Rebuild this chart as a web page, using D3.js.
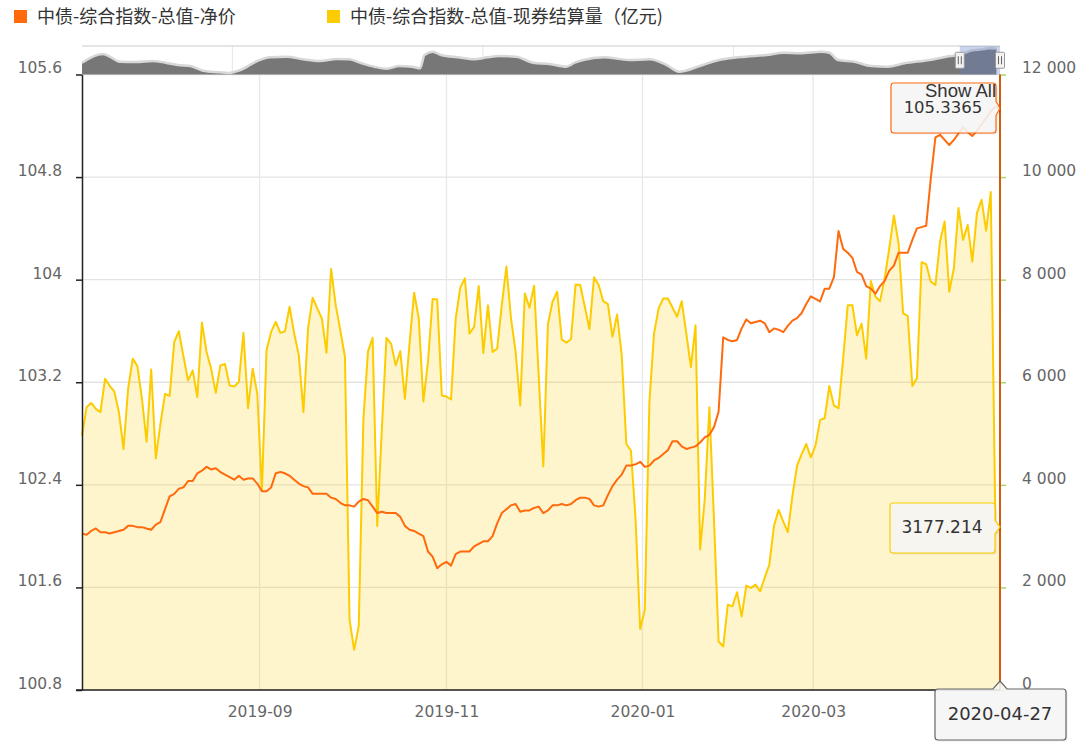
<!DOCTYPE html>
<html><head><meta charset="utf-8">
<script src="https://cdn.jsdelivr.net/npm/d3@7"></script>
<style>
body{margin:0;background:#fff;}
svg{display:block;}
</style></head>
<body>
<svg id="chart" width="1080" height="750"></svg>
<script>
// ---------------- data ----------------
const seriesNames = ["中债-综合指数-总值-净价", "中债-综合指数-总值-现券结算量（亿元)"];
const startDate = "2019-07-09", endDate = "2020-04-27";
const holidays = ["2019-09-13","2019-10-01","2019-10-02","2019-10-03","2019-10-04","2019-10-07",
  "2020-01-01","2020-01-24","2020-01-27","2020-01-28","2020-01-29","2020-01-30","2020-01-31","2020-04-06"];
const extraWorkdays = ["2019-09-29","2019-10-12","2020-01-19","2020-04-26"];

const netPrice = [
 102.02,102.01,102.04,102.06,102.03,102.03,102.02,102.03,102.04,102.05,
 102.08,102.08,102.07,102.07,102.06,102.05,102.09,102.11,102.21,102.31,
 102.33,102.37,102.38,102.43,102.43,102.49,102.51,102.54,102.52,102.53,
 102.50,102.48,102.46,102.44,102.47,102.44,102.45,102.45,102.41,102.35,
 102.35,102.38,102.49,102.50,102.49,102.47,102.44,102.41,102.39,102.38,
 102.33,102.33,102.33,102.33,102.30,102.29,102.26,102.24,102.24,102.23,
 102.27,102.29,102.28,102.23,102.18,102.19,102.18,102.18,102.18,102.15,
 102.08,102.05,102.04,102.02,102.00,101.88,101.84,101.75,101.78,101.80,
 101.77,101.86,101.88,101.88,101.88,101.92,101.94,101.96,101.96,102.00,
 102.10,102.18,102.21,102.24,102.25,102.19,102.20,102.20,102.22,102.23,
 102.18,102.20,102.24,102.24,102.25,102.24,102.25,102.28,102.30,102.30,
 102.29,102.24,102.23,102.24,102.32,102.39,102.44,102.48,102.55,102.55,
 102.56,102.58,102.54,102.55,102.59,102.61,102.64,102.67,102.74,102.74,
 102.70,102.68,102.69,102.70,102.73,102.77,102.79,102.85,102.97,103.55,
 103.53,103.52,103.53,103.62,103.69,103.66,103.67,103.68,103.66,103.59,
 103.62,103.61,103.59,103.64,103.68,103.70,103.74,103.81,103.87,103.85,
 103.83,103.93,103.93,104.02,104.38,104.24,104.21,104.17,104.06,104.04,
 103.95,103.93,103.89,103.95,103.99,104.07,104.11,104.21,104.21,104.21,
 104.31,104.40,104.41,104.42,104.79,105.11,105.13,105.09,105.05,105.09,
 105.14,105.19,105.15,105.12,105.16,105.21,105.26,105.31,105.35,105.3365];

const volume = [
 4958,5514,5598,5481,5416,6068,5931,5820,5416,4698,
 5873,6460,6317,5677,4841,6250,4516,5187,5775,5735,
 6787,6994,6499,6035,6231,5710,7164,6591,6264,5794,
 6329,6356,5937,5918,6004,6963,5495,6264,5775,3882,
 6622,6982,7178,6963,6994,7472,6949,6524,5416,7047,
 7648,7439,7243,6577,8208,7503,7008,6493,1370,783,
 1253,5285,6603,6865,3197,5090,6865,6753,6329,6603,
 5677,6753,7746,7243,5624,6395,7621,7615,5741,5722,
 5663,7229,7844,8026,6949,7080,7875,6571,7503,6591,
 6656,7503,8255,7243,6591,5546,7732,7452,7883,6127,
 4359,7125,7570,7765,6832,6773,6838,7908,7895,7472,
 7033,8045,7895,7581,7523,6885,7321,6524,4796,4665,
 3328,1188,1566,5612,6949,7439,7634,7634,7458,7276,
 7581,6949,6297,7112,2741,3719,5514,3328,945,848,
 1664,1631,1905,1435,2036,1991,2055,1924,2192,2447,
 3197,3510,3289,3079,3784,4371,4600,4796,4536,4763,
 5266,5299,5925,5546,5495,6460,7503,7503,6916,7145,
 6460,7973,7668,7581,8026,8613,9253,8711,7341,7296,
 5925,6082,8339,8300,7961,7895,8744,9136,7765,8222,
 9396,8776,9069,8353,9298,9559,8952,9709,3230,3177.214];

const leftTicks = [100.8, 101.6, 102.4, 103.2, 104, 104.8, 105.6];
const rightTicks = [0, 2000, 4000, 6000, 8000, 10000, 12000];
const xTickLabels = ["2019-09", "2019-11", "2020-01", "2020-03"];

// navigator (long history overview)
const navStart = "2002-01-01";
const navDates = ["2002-01","2002-06","2002-08","2002-10","2003-02","2003-06","2003-09","2003-12",
 "2004-03","2004-06","2004-10","2004-12","2005-03","2005-07","2005-10","2006-02","2006-06","2006-10",
 "2007-02","2007-05","2007-08","2007-11","2008-02","2008-05","2008-08","2008-10","2008-11","2009-01",
 "2009-03","2009-07","2009-11","2010-02","2010-05","2010-09","2011-01","2011-05","2011-09","2011-11",
 "2012-01","2012-06","2012-12","2013-05","2013-09","2013-12","2014-05","2014-08","2014-12","2015-04",
 "2015-09","2016-01","2016-05","2016-10","2016-12","2017-02","2017-06","2017-10","2018-02","2018-06",
 "2018-12","2019-04","2019-07","2019-10","2020-01","2020-02","2020-04"];
const navValues = [100.14,103.19,102.04,100.49,100.39,100.74,100.14,99.33,
 98.98,97.33,96.77,96.53,97.58,100.74,102.04,102.25,101.33,100.74,
 101.44,101.33,99.93,98.74,98.04,98.98,98.74,98.18,102.84,104.0,
 102.84,102.04,101.33,102.04,102.49,102.25,100.14,99.68,98.74,100.14,
 101.09,102.04,101.09,101.33,99.33,96.98,98.98,100.49,101.68,102.25,
 102.84,103.65,103.44,104.0,103.65,101.09,100.49,98.98,98.74,99.93,
 101.09,102.25,102.84,104.4,104.9,105.19,105.1];
const navGridYears = ["2005","2010","2015","2020"];

// ---------------- build ----------------
const plot = {left: 82, right: 1000, top: 74.5, bottom: 690};
const nav = {top: 46, bottom: 74.5};
const svg = d3.select("#chart");
const fmt = d3.timeFormat("%Y-%m-%d"), parse = d3.timeParse("%Y-%m-%d");
const hol = new Set(holidays), extra = new Set(extraWorkdays);
const dates = d3.timeDay.range(parse(startDate), d3.timeDay.offset(parse(endDate), 1))
  .map(fmt).filter(s => { const wd = parse(s).getDay(); return (wd !== 0 && wd !== 6 && !hol.has(s)) || extra.has(s); });

const x = d3.scaleLinear().domain([0, dates.length - 1]).range([plot.left, plot.right]);
const yL = d3.scaleLinear().domain([100.8, 105.6]).range([plot.bottom, plot.top]);
const yR = d3.scaleLinear().domain([0, 12000]).range([plot.bottom, plot.top]);
const xTickPos = xTickLabels.map(m => {
  const ms = m + "-01"; const i = dates.findIndex(d => d >= ms);
  return dates[i] === ms ? i : i - 0.5;
});

const axisFont = "'DejaVu Sans', Verdana, sans-serif";

// grid
const grid = svg.append("g");
grid.selectAll("line.h").data(leftTicks).join("line")
  .attr("x1", plot.left).attr("x2", plot.right)
  .attr("y1", d => yL(d)).attr("y2", d => yL(d))
  .attr("stroke", "#e3e3e3").attr("stroke-width", 1.3);
grid.selectAll("line.v").data(xTickPos).join("line")
  .attr("x1", d => x(d)).attr("x2", d => x(d))
  .attr("y1", plot.top).attr("y2", plot.bottom)
  .attr("stroke", "#e8e8e8").attr("stroke-width", 1.3);

// area + lines
svg.append("path").datum(volume)
  .attr("d", d3.area().x((d, i) => x(i)).y0(plot.bottom).y1(d => yR(d)))
  .attr("fill", "#ffcc00").attr("fill-opacity", 0.2);
svg.append("path").datum(volume)
  .attr("d", d3.line().x((d, i) => x(i)).y(d => yR(d)))
  .attr("fill", "none").attr("stroke", "#fccc00").attr("stroke-width", 2).attr("stroke-linejoin", "round");
svg.append("path").datum(netPrice)
  .attr("d", d3.line().x((d, i) => x(i)).y(d => yL(d)))
  .attr("fill", "none").attr("stroke", "#ff6a0d").attr("stroke-width", 2).attr("stroke-linejoin", "round");

// left axis
const gL = svg.append("g").attr("transform", `translate(${plot.left},0)`)
  .call(d3.axisLeft(yL).tickValues(leftTicks).tickSize(6).tickSizeOuter(0).tickFormat(d => String(+d.toFixed(1))));
gL.select(".domain").attr("stroke", "#222").attr("stroke-width", 1.5);
gL.selectAll(".tick line").attr("stroke", "#222").attr("stroke-width", 1.5);
gL.selectAll(".tick text").attr("x", -20).attr("y", -7).attr("dy", "0.35em")
  .attr("fill", "#666").style("font", `15.5px ${axisFont}`);

// right axis
const gR = svg.append("g").attr("transform", `translate(${plot.right},0)`)
  .call(d3.axisRight(yR).tickValues(rightTicks).tickSize(6).tickSizeOuter(0)
    .tickFormat(d => d3.format(",")(d).replace(/,/g, " ")));
gR.select(".domain").remove();
gR.selectAll(".tick line").attr("stroke", "#a5d86a").attr("stroke-width", 1.5);
gR.selectAll(".tick text").attr("x", 22).attr("y", -7).attr("dy", "0.35em")
  .attr("fill", "#666").style("font", `15.5px ${axisFont}`);

// bottom axis
const gB = svg.append("g").attr("transform", `translate(0,${plot.bottom})`)
  .call(d3.axisBottom(x).tickValues(xTickPos).tickSize(0).tickFormat((d, i) => xTickLabels[i]));
gB.select(".domain").attr("d", `M${plot.left - 6},0H${plot.right}`).attr("stroke", "#222").attr("stroke-width", 1.5);
gB.selectAll(".tick text").attr("y", 22).attr("dy", "0.35em")
  .attr("fill", "#666").style("font", `15.5px ${axisFont}`);

// crosshair at last point
const lastI = dates.length - 1;
svg.append("line").attr("x1", x(lastI)).attr("x2", x(lastI)).attr("y1", plot.top).attr("y2", plot.bottom)
  .attr("stroke", "#d35a0a").attr("stroke-width", 2);

// navigator
const navX = d3.scaleTime().domain([parse(navStart), parse(endDate)]).range([plot.left, plot.right]);
const navY = d3.scaleLinear().domain([96, 106]).range([nav.bottom, nav.top]);
const pm = d3.timeParse("%Y-%m");
const navG = svg.append("g");
navG.selectAll("line.ng").data(navGridYears).join("line")
  .attr("x1", d => navX(d3.timeParse("%Y")(d))).attr("x2", d => navX(d3.timeParse("%Y")(d)))
  .attr("y1", nav.top).attr("y2", nav.bottom).attr("stroke", "#e6e6e6").attr("stroke-width", 1);
navG.append("line").attr("x1", plot.left).attr("x2", plot.right).attr("y1", nav.top).attr("y2", nav.top)
  .attr("stroke", "#dcdcdc").attr("stroke-width", 1.5);
const navData = navDates.map((d, i) => ({date: pm(d), v: navValues[i]}));
navG.append("path").datum(navData)
  .attr("d", d3.area().x(d => navX(d.date)).y0(nav.bottom).y1(d => navY(d.v)).curve(d3.curveMonotoneX))
  .attr("fill", "#777");
navG.append("path").datum(navData)
  .attr("d", d3.line().x(d => navX(d.date)).y(d => navY(d.v)).curve(d3.curveMonotoneX))
  .attr("fill", "none").attr("stroke", "#d8d8d8").attr("stroke-width", 2.5);
const mx0 = navX(parse(startDate)), mx1 = navX(parse(endDate));
navG.append("rect").attr("x", mx0).attr("y", nav.top).attr("width", mx1 - mx0).attr("height", nav.bottom - nav.top)
  .attr("fill", "rgba(102,133,194,0.35)");
[mx0, mx1].forEach(hx => {
  const hg = navG.append("g").attr("transform", `translate(${hx},${(nav.top + nav.bottom) / 2})`);
  hg.append("rect").attr("x", -4.5).attr("y", -8).attr("width", 9).attr("height", 16).attr("rx", 1)
    .attr("fill", "#f2f2f2").attr("stroke", "#999");
  hg.append("path").attr("d", "M-1.5,-4V4M1.5,-4V4").attr("stroke", "#666").attr("stroke-width", 1);
});

// tooltips
function callout(g, bx, by, bw, bh, ax, ay, side, stroke) {
  const r = 3, h = 7;
  let d;
  if (side === "right") {
    d = `M${bx + r},${by}H${bx + bw - r}Q${bx + bw},${by} ${bx + bw},${by + r}V${ay - h}L${ax},${ay}L${bx + bw},${ay + h}` +
        `V${by + bh - r}Q${bx + bw},${by + bh} ${bx + bw - r},${by + bh}H${bx + r}Q${bx},${by + bh} ${bx},${by + bh - r}` +
        `V${by + r}Q${bx},${by} ${bx + r},${by}Z`;
  } else {
    d = `M${bx + r},${by}H${ax - h}L${ax},${ay}L${ax + h},${by}H${bx + bw - r}Q${bx + bw},${by} ${bx + bw},${by + r}` +
        `V${by + bh - r}Q${bx + bw},${by + bh} ${bx + bw - r},${by + bh}H${bx + r}Q${bx},${by + bh} ${bx},${by + bh - r}` +
        `V${by + r}Q${bx},${by} ${bx + r},${by}Z`;
  }
  g.append("path").attr("d", d).attr("fill", "rgba(0,0,0,0.08)").attr("transform", "translate(1.5,1.5)");
  g.append("path").attr("d", d).attr("fill", "rgba(247,247,247,0.88)").attr("stroke", stroke).attr("stroke-width", 1.2);
}
const tt = svg.append("g");
const lastNet = netPrice[lastI], lastVol = volume[lastI];
callout(tt, 891, 83, 105, 50, x(lastI), yL(lastNet), "right", "#ff6a0d");
tt.append("text").attr("x", 943).attr("y", 113).attr("text-anchor", "middle")
  .style("font", `16.5px ${axisFont}`).attr("fill", "#333").text(lastNet.toFixed(4));
callout(tt, 890, 503, 105, 50, x(lastI), yR(lastVol), "right", "#fccc00");
tt.append("text").attr("x", 942).attr("y", 533).attr("text-anchor", "middle")
  .style("font", `17px ${axisFont}`).attr("fill", "#333").text(lastVol.toFixed(3));
callout(tt, 935, 689, 131, 51, x(lastI), plot.bottom - 9, "bottom", "#666");
tt.append("text").attr("x", 1000).attr("y", 720).attr("text-anchor", "middle")
  .style("font", `18px ${axisFont}`).attr("fill", "#333").text(dates[lastI]);

// Show All
svg.append("text").attr("x", 996).attr("y", 96.5).attr("text-anchor", "end")
  .style("font", "18.5px 'Liberation Sans', Arial, sans-serif").attr("fill", "#333").text("Show All");

// legend
const colors = ["#ff6a0d", "#fccc00"];
const legX = [14, 327];
const lg = svg.append("g");
seriesNames.forEach((n, i) => {
  lg.append("rect").attr("x", legX[i]).attr("y", 10).attr("width", 13).attr("height", 13).attr("fill", colors[i]);
  lg.append("text").attr("x", legX[i] + 23).attr("y", 22.5)
    .style("font", "18px 'Noto Sans CJK SC', sans-serif").attr("fill", "#333").text(n);
});
</script>
</body></html>
